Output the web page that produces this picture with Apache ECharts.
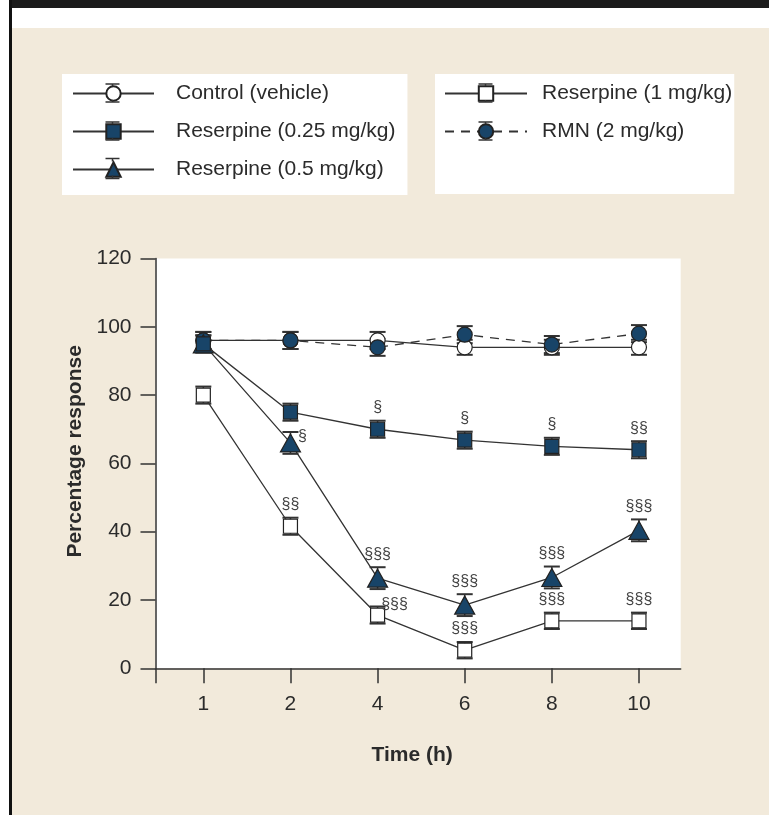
<!DOCTYPE html>
<html>
<head>
<meta charset="utf-8">
<script src="https://cdn.jsdelivr.net/npm/echarts@6/dist/echarts.min.js"></script>
<style>
  html, body { margin: 0; padding: 0; }
  body { width: 769px; height: 815px; background: #ffffff; position: relative; overflow: hidden; }
  #topbar { position: absolute; left: 9px; top: 0; width: 760px; height: 8px; background: #1b1b1b; }
  #leftbar { position: absolute; left: 9px; top: 0; width: 3px; height: 815px; background: #111; }
  #beige { position: absolute; left: 12px; top: 28px; right: 0; bottom: 0; background: #f2eadb; }
  #chart { position: absolute; left: 0; top: 0; width: 769px; height: 815px; }
</style>
</head>
<body>
<div id="topbar"></div>
<div id="leftbar"></div>
<div id="beige"></div>
<div id="chart"></div>
<script>
// ---- data ----
const timeLabels = ['1', '2', '4', '6', '8', '10'];

const controlVals = [96, 96, 96, 94, 94, 94];
const controlErr  = [2.5, 2.5, 2.5, 2.2, 2.2, 2.2];

const r025Vals = [95, 75, 70, 66.8, 65, 64];
const r025Err  = [2.5, 2.5, 2.5, 2.5, 2.5, 2.5];
const r025Sig  = ['', '', '§', '§', '§', '§§'];

const r05Vals = [95, 66, 26.4, 18.5, 26.6, 40.4];
const r05Err  = [2.5, 3.2, 3.2, 3.2, 3.2, 3.2];
const r05Sig  = ['', '§', '§§§', '§§§', '§§§', '§§§'];

const r1Vals = [80, 41.6, 15.6, 5.3, 13.9, 13.9];
const r1Err  = [2.5, 2.5, 2.5, 2.4, 2.4, 2.4];
const r1Sig  = ['', '§§', '§§§', '§§§', '§§§', '§§§'];

const rmnVals = [96, 96, 94, 97.7, 94.8, 98];
const rmnErr  = [2.5, 2.5, 2.5, 2.5, 2.5, 2.5];

const seriesNames = ['Control (vehicle)', 'Reserpine (0.25 mg/kg)', 'Reserpine (0.5 mg/kg)', 'Reserpine (1 mg/kg)', 'RMN (2 mg/kg)'];

// ---- styling ----
const FONT = 'Liberation Sans, Arial, Helvetica, sans-serif';
const TXT = '#2b2b2b';
const NAVY = '#184468';
const LINE = '#333333';

// label placement exceptions (series key -> {index: placement})
const sideLabels = {
  r05: { 1: { position: 'right', distance: 0, offset: [-3, -6] } },
  r1:  { 2: { position: 'right', distance: 0, offset: [-4, -10] } }
};

function lineData(vals, sig, key) {
  return vals.map((v, i) => {
    const item = { value: [i + 1, v] };
    if (sig && sig[i]) {
      const extra = (sideLabels[key] && sideLabels[key][i]) || { position: 'top', distance: 6 };
      item.label = Object.assign({
        show: true,
        formatter: sig[i],
        color: '#444',
        fontSize: 16,
        fontFamily: FONT
      }, extra);
    }
    return item;
  });
}

function errData(vals, errs) {
  return vals.map((v, i) => [i + 1, v - errs[i], v + errs[i]]);
}

function errSeries(name, vals, errs) {
  return {
    type: 'custom',
    name: name + ' err',
    z: 1,
    silent: true,
    data: errData(vals, errs),
    encode: { x: 0, y: [1, 2] },
    renderItem: function (params, api) {
      const x = api.value(0);
      const top = api.coord([x, api.value(2)]);
      const bot = api.coord([x, api.value(1)]);
      const hw = 8;
      return {
        type: 'group',
        children: [
          { type: 'line', shape: { x1: top[0], y1: top[1], x2: bot[0], y2: bot[1] }, style: { stroke: LINE, lineWidth: 1.5 } },
          { type: 'line', shape: { x1: top[0] - hw, y1: top[1], x2: top[0] + hw, y2: top[1] }, style: { stroke: LINE, lineWidth: 2 } },
          { type: 'line', shape: { x1: bot[0] - hw, y1: bot[1], x2: bot[0] + hw, y2: bot[1] }, style: { stroke: LINE, lineWidth: 2 } }
        ]
      };
    }
  };
}

function lineSeries(name, data, symbol, size, fill, dashed, z) {
  return {
    type: 'line',
    name: name,
    z: z,
    data: data,
    symbol: symbol,
    symbolSize: size,
    showAllSymbol: true,
    itemStyle: { color: fill, borderColor: '#222', borderWidth: 1.2 },
    lineStyle: { color: LINE, width: 1.3, type: dashed ? [9, 7] : 'solid' },
    emphasis: { disabled: true }
  };
}

// small error-bar glyphs drawn onto the legend samples (decoration only)
function legendCaps(cx, cy, inner, outer) {
  const hw = 7;
  const st = { stroke: LINE, lineWidth: 1.5 };
  return [
    { type: 'line', z: 100, silent: true, shape: { x1: cx, y1: cy - outer, x2: cx, y2: cy - inner }, style: st },
    { type: 'line', z: 100, silent: true, shape: { x1: cx, y1: cy + inner, x2: cx, y2: cy + outer }, style: st },
    { type: 'line', z: 100, silent: true, shape: { x1: cx - hw, y1: cy - outer, x2: cx + hw, y2: cy - outer }, style: st },
    { type: 'line', z: 100, silent: true, shape: { x1: cx - hw, y1: cy + outer, x2: cx + hw, y2: cy + outer }, style: st }
  ];
}

const chart = echarts.init(document.getElementById('chart'), null, { renderer: 'canvas' });

const legendCommon = {
  orient: 'vertical',
  top: 74,
  itemWidth: 81,
  itemHeight: 18,
  itemGap: 17,
  backgroundColor: '#ffffff',
  borderWidth: 0,
  selectedMode: false
};

chart.setOption({
  animation: false,
  textStyle: { fontFamily: FONT },
  legend: [
    Object.assign({}, legendCommon, {
      data: [seriesNames[0], seriesNames[1], seriesNames[2]],
      left: 62,
      padding: [9, 12, 15, 10],
      textStyle: { fontSize: 21, color: TXT, fontFamily: FONT, lineHeight: 18, padding: [0, 0, 0, 17] }
    }),
    Object.assign({}, legendCommon, {
      data: [seriesNames[3], seriesNames[4]],
      left: 435,
      itemWidth: 82,
      padding: [9, 2, 52, 9],
      textStyle: { fontSize: 21, color: TXT, fontFamily: FONT, lineHeight: 18, padding: [0, 0, 0, 10] }
    })
  ],
  graphic: [].concat(
    legendCaps(112.5, 93, 7, 9),
    legendCaps(112.5, 131, 7, 9),
    legendCaps(112.5, 168.5, 7, 10),
    legendCaps(485.5, 93, 7, 9),
    legendCaps(485.5, 131, 7, 9)
  ),
  grid: {
    left: 155.5, right: 88.3, top: 258.5, bottom: 146.7,
    show: true, backgroundColor: '#ffffff', borderWidth: 0
  },
  xAxis: {
    type: 'value',
    min: 0.451,
    max: 6.479,
    name: 'Time (h)',
    nameLocation: 'middle',
    nameGap: 76,
    nameTextStyle: { fontSize: 21, fontWeight: 'bold', color: TXT, fontFamily: FONT, padding: [0, 12, 0, 0] },
    axisLine: { show: true, lineStyle: { color: LINE, width: 1.5 } },
    axisTick: { show: true, length: 15, customValues: [0.451, 1, 2, 3, 4, 5, 6], lineStyle: { color: LINE, width: 1.5 } },
    axisLabel: {
      customValues: [1, 2, 3, 4, 5, 6],
      formatter: function (v) { return timeLabels[Math.round(v) - 1]; },
      margin: 25, fontSize: 21, color: TXT, fontFamily: FONT
    },
    splitLine: { show: false }
  },
  yAxis: {
    type: 'value',
    min: 0,
    max: 120,
    interval: 20,
    name: 'Percentage response',
    nameLocation: 'middle',
    nameGap: 58,
    nameTextStyle: { fontSize: 21, fontWeight: 'bold', color: TXT, fontFamily: FONT, padding: [0, 0, 0, 24] },
    axisLine: { show: true, lineStyle: { color: LINE, width: 1.5 } },
    axisTick: { show: true, length: 15, lineStyle: { color: LINE, width: 1.5 } },
    axisLabel: { margin: 24, fontSize: 21, color: TXT, fontFamily: FONT },
    splitLine: { show: false }
  },
  series: [
    errSeries(seriesNames[0], controlVals, controlErr),
    errSeries(seriesNames[4], rmnVals, rmnErr),
    errSeries(seriesNames[3], r1Vals, r1Err),
    errSeries(seriesNames[2], r05Vals, r05Err),
    errSeries(seriesNames[1], r025Vals, r025Err),
    lineSeries(seriesNames[0], lineData(controlVals, null, 'control'), 'circle', 15, '#ffffff', false, 3),
    lineSeries(seriesNames[4], lineData(rmnVals, null, 'rmn'), 'circle', 15, NAVY, true, 4),
    lineSeries(seriesNames[3], lineData(r1Vals, r1Sig, 'r1'), 'rect', 14, '#ffffff', false, 5),
    lineSeries(seriesNames[2], lineData(r05Vals, r05Sig, 'r05'), 'triangle', [20, 18], NAVY, false, 6),
    lineSeries(seriesNames[1], lineData(r025Vals, r025Sig, 'r025'), 'rect', 14, NAVY, false, 7)
  ]
});
</script>
</body>
</html>
